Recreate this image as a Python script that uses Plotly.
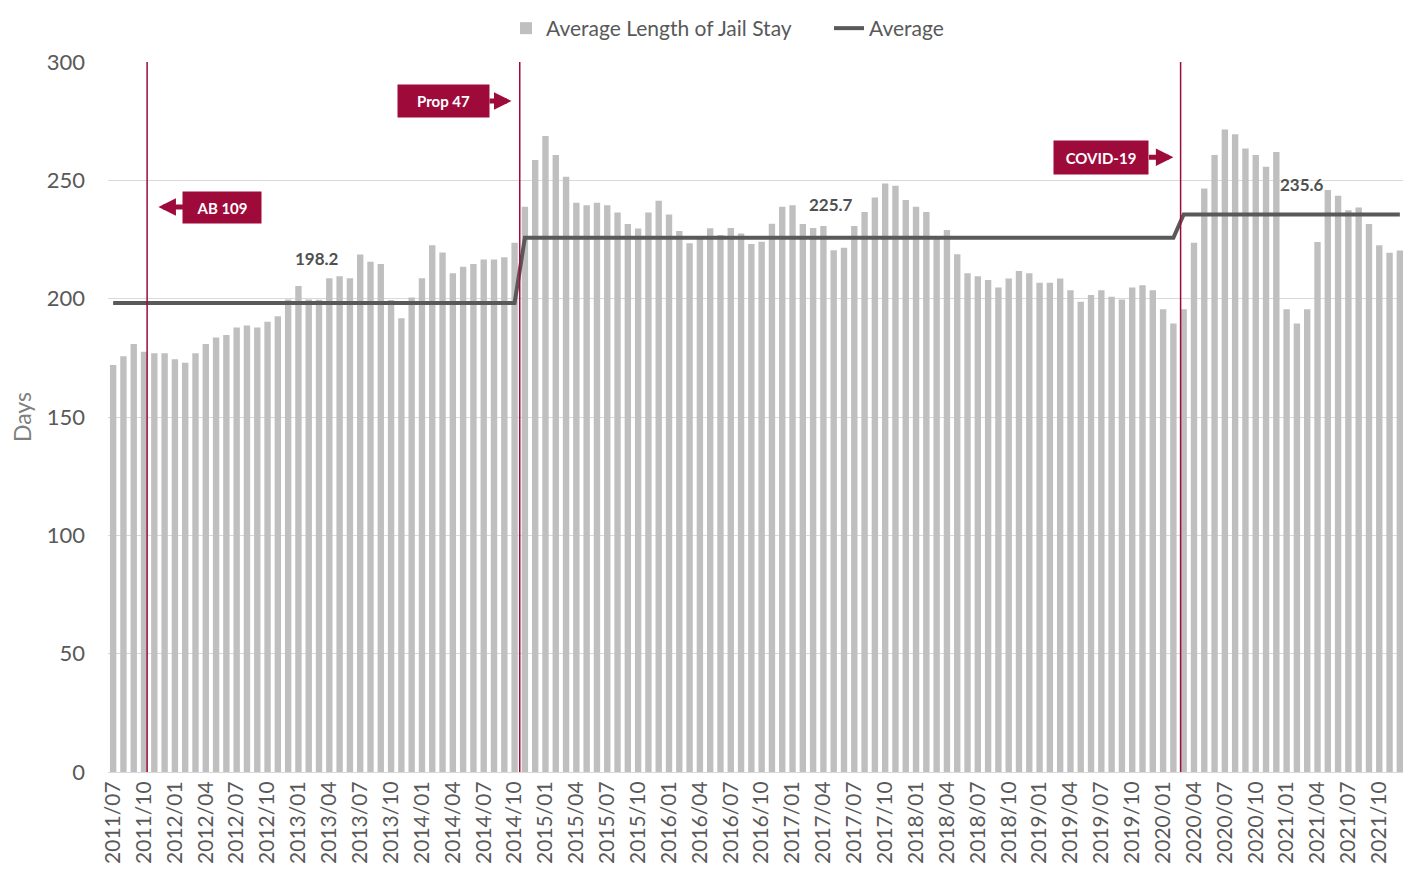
import pandas as pd
import plotly.graph_objects as go

# monthly categories, 2011/07 .. 2021/12
months = list(pd.date_range("2011-07-01", "2021-12-01", freq="MS").strftime("%Y/%m"))

jail_stay = [
    172.0, 175.7, 180.8, 177.6, 176.9, 176.9, 174.4, 172.9, 176.9, 180.8,
    183.6, 184.7, 187.8, 188.7, 187.8, 190.2, 192.6, 199.7, 205.4, 199.7,
    199.5, 208.6, 209.5, 208.6, 218.7, 215.6, 214.6, 199.4, 191.7, 200.5,
    208.6, 222.6, 219.5, 210.7, 213.5, 214.6, 216.6, 216.6, 217.5, 223.6,
    238.8, 258.6, 268.7, 260.7, 251.5, 240.5, 239.5, 240.5, 239.5, 236.4,
    231.5, 229.7, 236.4, 241.4, 235.6, 228.6, 223.4, 225.2, 229.8, 226.9,
    229.9, 227.5, 223.1, 224.1, 231.7, 238.8, 239.5, 231.5, 229.9, 230.7,
    220.5, 221.5, 230.7, 236.6, 242.7, 248.7, 247.7, 241.7, 238.8, 236.6,
    226.4, 229.0, 218.8, 210.7, 209.5, 207.9, 204.7, 208.5, 211.7, 210.7,
    206.7, 206.7, 208.5, 203.6, 198.7, 201.5, 203.6, 200.8, 199.7, 204.7,
    205.7, 203.6, 195.5, 189.5, 195.5, 223.6, 246.6, 260.7, 271.5, 269.5,
    263.5, 260.7, 255.7, 262.0, 195.5, 189.5, 195.5, 223.9, 245.9, 243.5,
    237.4, 238.5, 231.5, 222.6, 219.4, 220.3,
]

period_avgs = [198.2, 225.7, 235.6]
period_lengths = [40, 64, 22]
average = [v for v, n in zip(period_avgs, period_lengths) for _ in range(n)]

tick_months = months[::3]

# policy events: label, line position (category index), arrow tip, label offset, box size
events = [
    ("AB 109", 3.3, 4.4, 238.7, 64, 78, 31),
    ("Prop 47", 39.5, 38.7, 283.5, -68, 91, 32),
    ("COVID-19", 103.7, 103.0, 259.8, -72, 94, 33),
]
avg_label_pos = [(19.8, 217), (69.7, 240), (115.5, 248.4)]

RED = "#9E0B3B"
FONT = "Lato, 'Open Sans', sans-serif"

fig = go.Figure()
fig.add_trace(go.Bar(
    x=months, y=jail_stay, name="Average Length of Jail Stay",
    marker=dict(color="#BFBFBF", line=dict(width=0)),
))
fig.add_trace(go.Scatter(
    x=months, y=average, name="Average", mode="lines",
    line=dict(color="#595959", width=4),
))

for label, xline, xtip, ytip, ax, bw, bh in events:
    fig.add_shape(type="line", xref="x", yref="paper", x0=xline, x1=xline, y0=0, y1=1,
                  line=dict(color=RED, width=1.5))
    fig.add_annotation(
        x=xtip, y=ytip, xref="x", yref="y", text=f"<b>{label}</b>",
        showarrow=True, ax=ax, ay=0, arrowhead=2, arrowsize=0.7, arrowwidth=5,
        arrowcolor=RED, bgcolor=RED, borderpad=0, width=bw, height=bh,
        font=dict(color="white", size=15, family=FONT),
    )

for (xa, ya), val in zip(avg_label_pos, period_avgs):
    fig.add_annotation(x=xa, y=ya, xref="x", yref="y", text=f"<b>{val}</b>",
                       showarrow=False, font=dict(color="#505050", size=17, family=FONT))

# page body adds an 8px offset, so the figure is 8px smaller and margins shifted
fig.update_layout(
    width=1403, height=863,
    margin=dict(l=100, r=6, t=54, b=99, autoexpand=False),
    plot_bgcolor="white", paper_bgcolor="white",
    font=dict(family=FONT, color="#595959"),
    bargap=0.38,
    showlegend=True,
    legend=dict(orientation="h", xref="container", x=498 / 1403, xanchor="left",
                yref="container", y=1, yanchor="top", bgcolor="rgba(0,0,0,0)",
                font=dict(size=21, color="#595959"), traceorder="normal",
                itemwidth=30, entrywidthmode="pixels", entrywidth=278),
)
fig.update_xaxes(
    type="category", range=[-0.5, len(months) - 0.5], automargin=False,
    tickmode="array", tickvals=tick_months, ticktext=tick_months,
    tickangle=-90, tickfont=dict(size=21, color="#595959"),
    showgrid=False, showline=True, linecolor="#D9D9D9", linewidth=1, ticks="",
)
fig.update_yaxes(
    range=[0, 300], dtick=50, showgrid=True, gridcolor="#D9D9D9", gridwidth=1,
    zeroline=False, tickfont=dict(size=22, color="#595959"), ticklabelstandoff=22,
    automargin=False,
    title=dict(text="Days", font=dict(size=23, color="#7F7F7F"), standoff=14),
)

fig.write_html("out.html")
